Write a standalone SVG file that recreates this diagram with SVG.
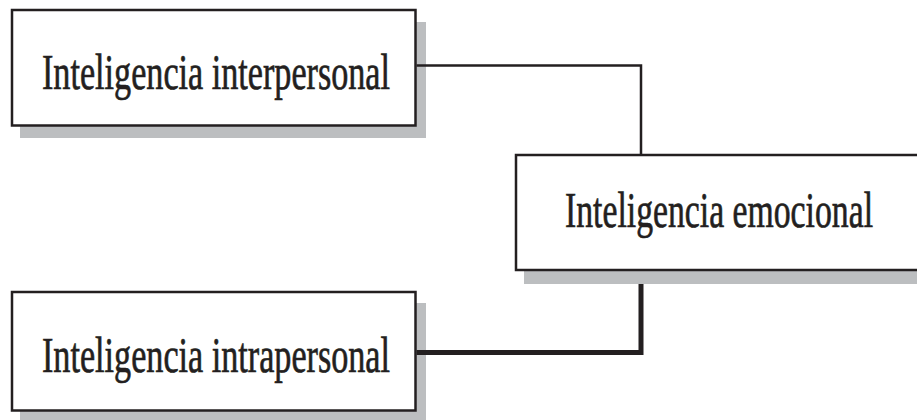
<svg xmlns="http://www.w3.org/2000/svg" width="917" height="420" viewBox="0 0 917 420">
<style>
.shadow{fill:#bcbec0;stroke:none}
.box{fill:#ffffff;stroke:#231f20;stroke-width:2.5}
.label{font-family:"Liberation Serif","Times New Roman",serif;font-size:51px;fill:#231f20;stroke:#231f20;stroke-width:0.7}
.conn{fill:none;stroke:#231f20;stroke-linejoin:miter}
</style>
<rect width="917" height="420" fill="#ffffff"/>
<g id="node-interpersonal">
<rect class="shadow" x="20" y="22" width="406" height="116"/>
<rect class="box" x="12" y="10" width="403.5" height="115.5"/>
<text class="label" x="42" y="89" textLength="348" lengthAdjust="spacingAndGlyphs">Inteligencia interpersonal</text>
</g>
<g id="node-emocional">
<rect class="shadow" x="524" y="165" width="400" height="119"/>
<rect class="box" x="516" y="155" width="404" height="115"/>
<text class="label" x="565" y="227" textLength="308" lengthAdjust="spacingAndGlyphs">Inteligencia emocional</text>
</g>
<g id="node-intrapersonal">
<rect class="shadow" x="20" y="303" width="406" height="125"/>
<rect class="box" x="12" y="292" width="403.5" height="118.5"/>
<text class="label" x="42" y="372" textLength="348" lengthAdjust="spacingAndGlyphs">Inteligencia intrapersonal</text>
</g>
<g id="connectors">
<polyline class="conn" stroke-width="2.5" points="416.5,65.5 641,65.5 641,154"/>
<polyline class="conn" stroke-width="5" points="641,284 641,352.5 416.5,352.5"/>
</g>
</svg>
